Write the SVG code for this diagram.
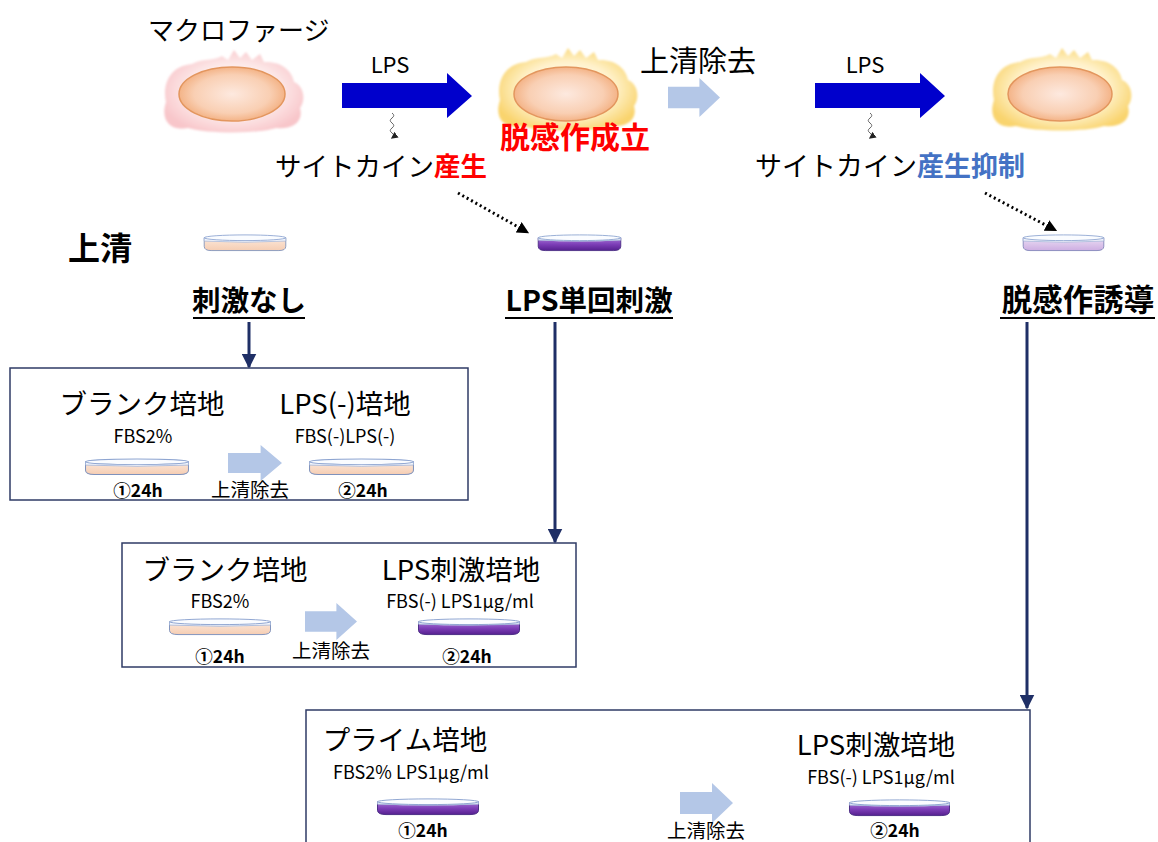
<svg xmlns="http://www.w3.org/2000/svg" xmlns:xlink="http://www.w3.org/1999/xlink" width="1158" height="842" viewBox="0 0 1158 842">
  <style>
    text { font-family: "Noto Sans CJK JP", "Noto Sans", sans-serif; fill: #000; }
    .big { font-size: 27.5px; }
    .title { font-size: 28.5px; font-weight: bold; }
    .small { font-size: 18px; }
    .wash { font-size: 19.5px; }
    .hrs { font-size: 17.5px; font-weight: bold; }
    .lps { font-size: 22px; }
    .box { fill: #fff; stroke: #2F3B66; stroke-width: 1.5; }
    .flow { stroke: #1F2F66; stroke-width: 3; fill: none; }
    .dotted { stroke: #000; stroke-width: 3; stroke-dasharray: 2 3; fill: none; }
    .squiggle { stroke: #666; stroke-width: 1; fill: none; }
    .uline { stroke: #000; stroke-width: 2; }
    .nucleus { fill: url(#nucGrad); stroke: #E3965E; stroke-width: 1.5; }
    .blue-arrow { fill: #0000CC; }
  </style>
  <defs>
    <radialGradient id="nucGrad" cx="0.5" cy="0.5" r="0.55">
      <stop offset="0" stop-color="#FDE9DF"/>
      <stop offset="0.65" stop-color="#F9CFB3"/>
      <stop offset="1" stop-color="#F2AA78"/>
    </radialGradient>
    <radialGradient id="pinkGrad" cx="0.5" cy="0.5" r="0.55">
      <stop offset="0" stop-color="#FFFFFF"/>
      <stop offset="0.6" stop-color="#FDE9E9"/>
      <stop offset="1" stop-color="#F8C6CA"/>
    </radialGradient>
    <radialGradient id="yellowGrad" cx="0.5" cy="0.5" r="0.55">
      <stop offset="0" stop-color="#FFFFFF"/>
      <stop offset="0.6" stop-color="#FFF2CC"/>
      <stop offset="1" stop-color="#F9D46E"/>
    </radialGradient>
    <linearGradient id="peachGrad" x1="0" y1="0" x2="0" y2="1">
      <stop offset="0" stop-color="#FCE8DA"/>
      <stop offset="1" stop-color="#F5CDB3"/>
    </linearGradient>
    <linearGradient id="purpleGrad" x1="0" y1="0" x2="0" y2="1">
      <stop offset="0" stop-color="#A778D6"/>
      <stop offset="0.5" stop-color="#7E3FB8"/>
      <stop offset="1" stop-color="#56208F"/>
    </linearGradient>
    <linearGradient id="lilacGrad" x1="0" y1="0" x2="0" y2="1">
      <stop offset="0" stop-color="#EBDDF4"/>
      <stop offset="1" stop-color="#CDAEE2"/>
    </linearGradient>
    <filter id="soft" x="-20%" y="-20%" width="140%" height="140%">
      <feGaussianBlur stdDeviation="1.1"/>
    </filter>
    <!-- irregular cell membrane around the nucleus -->
    <path id="blob" d="M -66,8 C -70,-10 -62,-28 -40,-30 C -30,-36 -18,-33 -10,-38 L -4,-34 L 2,-44 L 8,-36 L 14,-42 L 20,-34 L 28,-40 L 32,-32 C 48,-33 60,-24 62,-12 C 72,-8 74,6 68,14 C 72,28 60,36 44,34 C 26,40 -24,40 -44,34 C -62,38 -72,26 -66,8 Z"/>
    <!-- petri dishes -->
    <symbol id="dishPeach" viewBox="0 0 104 20" preserveAspectRatio="none">
      <path d="M1.5,5 V14 Q1.5,18.5 10,18.5 H94 Q102.5,18.5 102.5,14 V5 Z" fill="url(#peachGrad)" stroke="#7F92BC" stroke-width="1"/>
      <path d="M1.5,5 V8.5 Q52,11 102.5,8.5 V5 Z" fill="#F5F7FC" stroke="#9DB0D6" stroke-width="0.8"/>
      <ellipse cx="52" cy="5" rx="50.5" ry="3" fill="#FAFCFF" stroke="#8EA5D1" stroke-width="1"/>
    </symbol>
    <symbol id="dishPurple" viewBox="0 0 104 20" preserveAspectRatio="none">
      <path d="M1.5,5 V14 Q1.5,18.5 10,18.5 H94 Q102.5,18.5 102.5,14 V5 Z" fill="url(#purpleGrad)" stroke="#4A2C84" stroke-width="1"/>
      <path d="M1.5,5 V7.5 Q52,10 102.5,7.5 V5 Z" fill="#EEF1FA" stroke="#9DB0D6" stroke-width="0.8"/>
      <ellipse cx="52" cy="5" rx="50.5" ry="3" fill="#FAFCFF" stroke="#8EA5D1" stroke-width="1"/>
    </symbol>
    <symbol id="dishLilac" viewBox="0 0 104 20" preserveAspectRatio="none">
      <path d="M1.5,5 V14 Q1.5,18.5 10,18.5 H94 Q102.5,18.5 102.5,14 V5 Z" fill="url(#lilacGrad)" stroke="#7F84B8" stroke-width="1"/>
      <path d="M1.5,5 V8.5 Q52,11 102.5,8.5 V5 Z" fill="#F3F3FB" stroke="#9DB0D6" stroke-width="0.8"/>
      <ellipse cx="52" cy="5" rx="50.5" ry="3" fill="#FAFCFF" stroke="#8EA5D1" stroke-width="1"/>
    </symbol>
    <!-- pale block arrow for supernatant removal -->
    <symbol id="paleArrow" viewBox="0 0 53 40" preserveAspectRatio="none">
      <path d="M0,9 H32 V0 L53,20 L32,40 V31 H0 Z" fill="#B4C7E7"/>
    </symbol>
    <marker id="navyHead" viewBox="0 0 10 10" refX="9" refY="5" markerWidth="5" markerHeight="5" orient="auto" markerUnits="strokeWidth">
      <path d="M0,0 L10,5 L0,10 Z" fill="#1F2F66"/>
    </marker>
    <marker id="blackHead" viewBox="0 0 10 10" refX="8" refY="5" markerWidth="4" markerHeight="4" orient="auto" markerUnits="strokeWidth">
      <path d="M0,0 L10,5 L0,10 Z" fill="#000"/>
    </marker>
    <marker id="tinyHead" viewBox="0 0 10 10" refX="8" refY="5" markerWidth="7" markerHeight="7" orient="auto" markerUnits="strokeWidth">
      <path d="M0,0 L10,5 L0,10 Z" fill="#222"/>
    </marker>
  </defs>

  <rect x="0" y="0" width="1158" height="842" fill="#fff"/>

  <!-- macrophage, untreated -->
  <g id="cell-resting">
    <text x="148" y="40" style="font-size:26px">マクロファージ</text>
    <use href="#blob" transform="translate(232,94)" fill="url(#pinkGrad)" filter="url(#soft)"/>
    <ellipse cx="232" cy="94" rx="53" ry="27" class="nucleus"/>
  </g>

  <!-- macrophage after first LPS -->
  <g id="cell-tolerant">
    <use href="#blob" transform="translate(566,92)" fill="url(#yellowGrad)" filter="url(#soft)"/>
    <ellipse cx="566" cy="94" rx="52" ry="27" class="nucleus"/>
    <text x="500" y="148" style="font-size:30px;font-weight:bold;fill:#FF0000">脱感作成立</text>
  </g>

  <!-- macrophage after second LPS -->
  <g id="cell-restimulated">
    <use href="#blob" transform="translate(1060,92)" fill="url(#yellowGrad)" filter="url(#soft)"/>
    <ellipse cx="1060" cy="94" rx="52" ry="27" class="nucleus"/>
  </g>

  <!-- LPS stimulation arrows and cytokine output -->
  <g id="stim-first">
    <text x="390" y="73" class="lps" text-anchor="middle">LPS</text>
    <path class="blue-arrow" d="M342,83 H447 V73 L472,96 L447,118 V108 H342 Z"/>
    <path class="squiggle" marker-end="url(#tinyHead)" d="M392,113 q3.5,2.5 0,5 q-3.5,2.5 0,5 q3.5,2.5 0,5 q-3.5,2.5 0,5 q3.5,2.5 0,5"/>
    <text x="275" y="176" style="font-size:26.5px">サイトカイン<tspan style="fill:#FF0000;font-weight:bold">産生</tspan></text>
  </g>

  <g id="wash-top">
    <text x="640" y="72" style="font-size:29px">上清除去</text>
    <use href="#paleArrow" x="668" y="78" width="52" height="39"/>
  </g>

  <g id="stim-second">
    <text x="865" y="73" class="lps" text-anchor="middle">LPS</text>
    <path class="blue-arrow" d="M815,83 H920 V73 L945,96 L920,118 V108 H815 Z"/>
    <path class="squiggle" marker-end="url(#tinyHead)" d="M870,113 q3.5,2.5 0,5 q-3.5,2.5 0,5 q3.5,2.5 0,5 q-3.5,2.5 0,5 q3.5,2.5 0,5"/>
    <text x="755" y="176" style="font-size:27px">サイトカイン<tspan style="fill:#4472C4;font-weight:bold">産生抑制</tspan></text>
  </g>

  <!-- supernatant row -->
  <g id="supernatant-label">
    <text x="68" y="260" style="font-size:32px;font-weight:bold">上清</text>
  </g>
  <g id="sup-none">
    <use href="#dishPeach" x="203" y="233" width="84" height="19"/>
    <text x="249" y="311" class="title" text-anchor="middle">刺激なし</text>
    <line class="uline" x1="193" y1="318" x2="305" y2="318"/>
  </g>
  <g id="sup-single">
    <use href="#dishPurple" x="537" y="233" width="85" height="19"/>
    <text x="589" y="311" class="title" text-anchor="middle">LPS単回刺激</text>
    <line class="uline" x1="505" y1="318" x2="673" y2="318"/>
  </g>
  <g id="sup-tolerance">
    <use href="#dishLilac" x="1022" y="233" width="83" height="19"/>
    <text x="1078" y="311" class="title" text-anchor="middle" style="font-size:30.5px">脱感作誘導</text>
    <line class="uline" x1="1000" y1="318" x2="1155" y2="318"/>
  </g>

  <!-- protocol: no stimulation -->
  <g id="protocol-none">
    <rect class="box" x="10" y="368" width="458" height="132"/>
    <text x="142" y="414" class="big" text-anchor="middle">ブランク培地</text>
    <text x="143" y="443" class="small" text-anchor="middle">FBS2%</text>
    <use href="#dishPeach" x="84" y="457" width="106" height="19"/>
    <text x="138" y="497" class="hrs" text-anchor="middle">①24h</text>
    <use href="#paleArrow" x="228" y="445" width="54" height="36"/>
    <text x="250" y="497" class="wash" text-anchor="middle">上清除去</text>
    <text x="345" y="414" class="big" text-anchor="middle">LPS(-)培地</text>
    <text x="345" y="443" class="small" text-anchor="middle">FBS(-)LPS(-)</text>
    <use href="#dishPeach" x="308" y="457" width="107" height="19"/>
    <text x="363" y="497" class="hrs" text-anchor="middle">②24h</text>
  </g>

  <!-- protocol: single LPS -->
  <g id="protocol-single">
    <rect class="box" x="122" y="543" width="454" height="124"/>
    <text x="225" y="580" class="big" text-anchor="middle">ブランク培地</text>
    <text x="220" y="608" class="small" text-anchor="middle">FBS2%</text>
    <use href="#dishPeach" x="168" y="617" width="104" height="19"/>
    <text x="220" y="663" class="hrs" text-anchor="middle">①24h</text>
    <use href="#paleArrow" x="305" y="603" width="52" height="37"/>
    <text x="331" y="658" class="wash" text-anchor="middle">上清除去</text>
    <text x="461" y="580" class="big" text-anchor="middle">LPS刺激培地</text>
    <text x="460" y="608" class="small" text-anchor="middle">FBS(-) LPS1µg/ml</text>
    <use href="#dishPurple" x="417" y="617" width="104" height="19"/>
    <text x="467" y="663" class="hrs" text-anchor="middle">②24h</text>
  </g>

  <!-- protocol: tolerance induction -->
  <g id="protocol-tolerance">
    <rect class="box" x="306" y="710" width="724" height="140"/>
    <text x="405" y="750" class="big" text-anchor="middle">プライム培地</text>
    <text x="411" y="779" class="small" text-anchor="middle">FBS2% LPS1µg/ml</text>
    <use href="#dishPurple" x="376" y="797" width="104" height="19"/>
    <text x="423" y="837" class="hrs" text-anchor="middle">①24h</text>
    <use href="#paleArrow" x="680" y="783" width="53" height="40"/>
    <text x="706" y="838" class="wash" text-anchor="middle">上清除去</text>
    <text x="876" y="755" class="big" text-anchor="middle">LPS刺激培地</text>
    <text x="881" y="784" class="small" text-anchor="middle">FBS(-) LPS1µg/ml</text>
    <use href="#dishPurple" x="848" y="798" width="103" height="19"/>
    <text x="895" y="837" class="hrs" text-anchor="middle">②24h</text>
  </g>

  <!-- connectors -->
  <g id="connectors">
    <path class="dotted" marker-end="url(#blackHead)" d="M458,193 L527,232"/>
    <path class="dotted" marker-end="url(#blackHead)" d="M985,193 L1055,230"/>
    <path class="flow" marker-end="url(#navyHead)" d="M249,322 V367"/>
    <path class="flow" marker-end="url(#navyHead)" d="M555,322 V542"/>
    <path class="flow" marker-end="url(#navyHead)" d="M1027,322 V708"/>
  </g>
</svg>
